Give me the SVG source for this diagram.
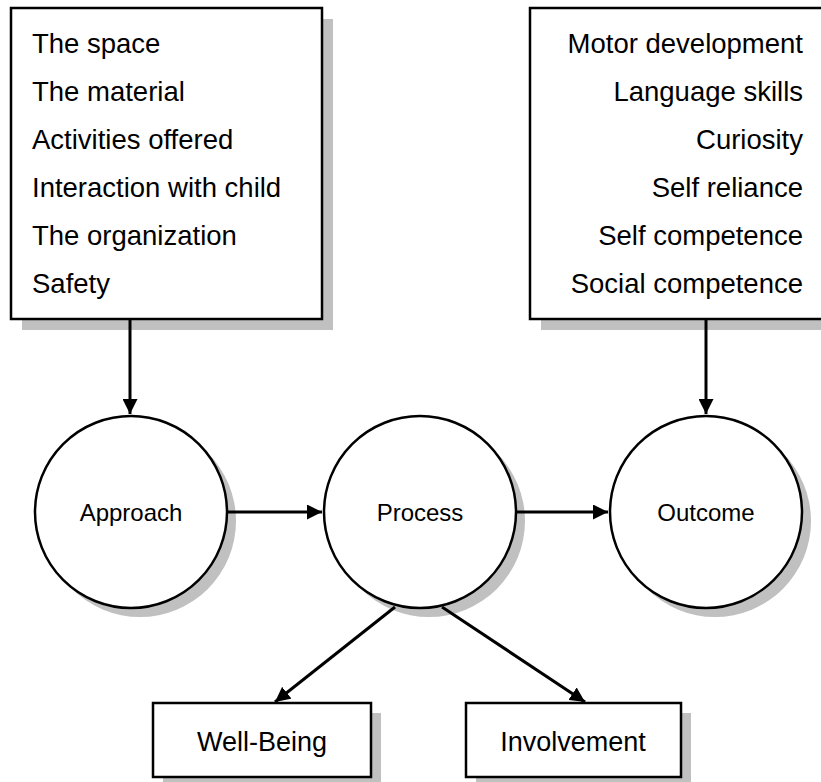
<svg xmlns="http://www.w3.org/2000/svg" width="821" height="782" viewBox="0 0 821 782">
<defs>
<style>
.box{fill:#fff;stroke:#000;stroke-width:2.5}
.shadow{fill:#c0c0c0;stroke:none}
.list{font-family:"Liberation Sans",Arial,sans-serif;font-size:27.5px;fill:#000}
.lbl{font-family:"Liberation Sans",Arial,sans-serif;font-size:24px;fill:#000;text-anchor:middle}
.blbl{font-family:"Liberation Sans",Arial,sans-serif;font-size:27px;fill:#000;text-anchor:middle}
.conn{stroke:#000;stroke-width:3;fill:none}
</style>
<marker id="arr" viewBox="0 0 10 10" refX="10" refY="5" markerWidth="5" markerHeight="5" markerUnits="strokeWidth" orient="auto">
<path d="M0,0 L10,5 L0,10 z" fill="#000"/>
</marker>
</defs>
<rect width="821" height="782" fill="#fff"/>
<g id="approach-factors">
<rect class="shadow" x="22" y="19" width="311" height="311"/>
<rect class="box" x="11" y="8" width="311" height="311"/>
<text class="list" x="32" y="53">The space</text>
<text class="list" x="32" y="101">The material</text>
<text class="list" x="32" y="149">Activities offered</text>
<text class="list" x="32" y="197">Interaction with child</text>
<text class="list" x="32" y="245">The organization</text>
<text class="list" x="32" y="293">Safety</text>
</g>
<g id="outcome-factors">
<rect class="shadow" x="541" y="19" width="311" height="311"/>
<rect class="box" x="530" y="8" width="311" height="311"/>
<g text-anchor="end">
<text class="list" x="803" y="53">Motor development</text>
<text class="list" x="803" y="101">Language skills</text>
<text class="list" x="803" y="149">Curiosity</text>
<text class="list" x="803" y="197">Self reliance</text>
<text class="list" x="803" y="245">Self competence</text>
<text class="list" x="803" y="293">Social competence</text>
</g>
</g>
<g id="approach">
<circle class="shadow" cx="140" cy="521" r="96"/>
<circle class="box" cx="131" cy="512" r="96"/>
<text class="lbl" x="131" y="521">Approach</text>
</g>
<g id="process">
<circle class="shadow" cx="429" cy="521" r="96"/>
<circle class="box" cx="420" cy="512" r="96"/>
<text class="lbl" x="420" y="521">Process</text>
</g>
<g id="outcome">
<circle class="shadow" cx="715" cy="521" r="96"/>
<circle class="box" cx="706" cy="512" r="96"/>
<text class="lbl" x="706" y="521">Outcome</text>
</g>
<g id="well-being">
<rect class="shadow" x="163" y="713" width="218" height="74"/>
<rect class="box" x="153" y="703" width="218" height="74"/>
<text class="blbl" x="262" y="751">Well-Being</text>
</g>
<g id="involvement">
<rect class="shadow" x="476" y="713" width="215" height="74"/>
<rect class="box" x="466" y="703" width="215" height="74"/>
<text class="blbl" x="573" y="751">Involvement</text>
</g>
<g id="connectors">
<line class="conn" x1="130" y1="319" x2="130" y2="414" marker-end="url(#arr)"/>
<line class="conn" x1="706" y1="319" x2="706" y2="414" marker-end="url(#arr)"/>
<line class="conn" x1="228" y1="512" x2="322" y2="512" marker-end="url(#arr)"/>
<line class="conn" x1="517" y1="512" x2="608" y2="512" marker-end="url(#arr)"/>
<line class="conn" x1="395" y1="607" x2="275" y2="702" marker-end="url(#arr)"/>
<line class="conn" x1="442" y1="607" x2="585" y2="702" marker-end="url(#arr)"/>
</g>
</svg>
